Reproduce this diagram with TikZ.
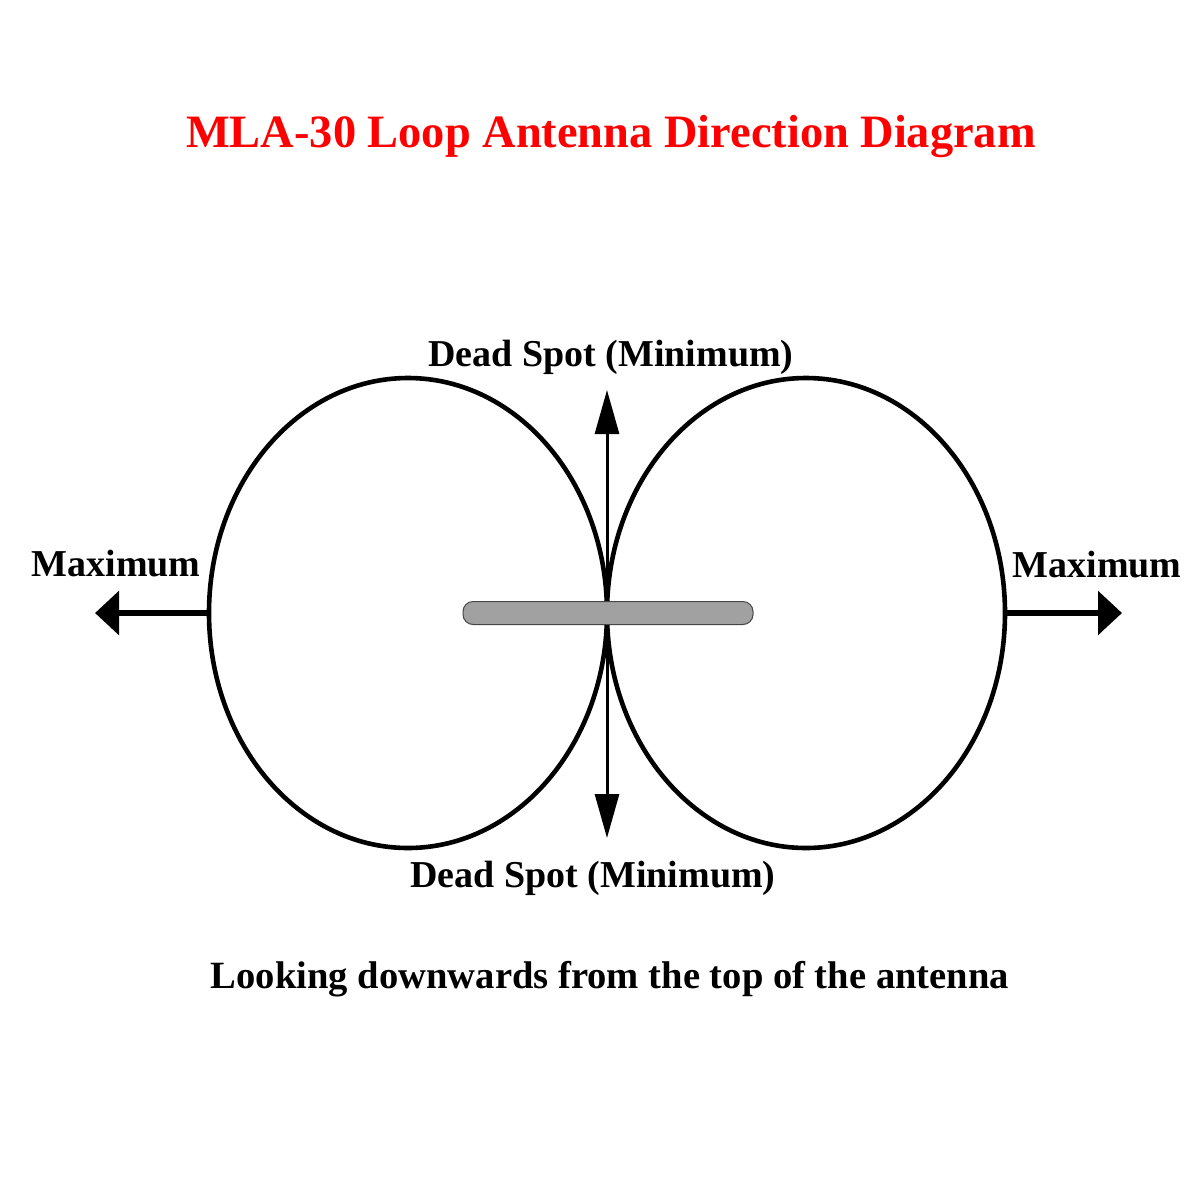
\documentclass[tikz,border=0pt]{standalone}
\usepackage{fontspec}
\setmainfont{Liberation Serif}
\usepackage{xcolor}
\usetikzlibrary{positioning, shapes.geometric, arrows.meta}

\begin{document}
\begin{tikzpicture}[x=0.5pt,y=-0.5pt]
	\tikzstyle{lobe}=[ellipse,draw=black,line width=2.3pt,minimum width=199pt,minimum height=235pt,inner sep=0pt]
	\tikzstyle{rod}=[rectangle,draw=gray!55!black,line width=0.5pt,fill=gray!74,rounded corners=5pt,minimum width=145pt,minimum height=11.5pt,inner sep=0pt]
	\tikzstyle{maxarrow}=[line width=3pt,-{Triangle[length=12pt,width=21.5pt]}]
	\tikzstyle{minarrow}=[line width=1.5pt,-{Triangle[length=22pt,width=12pt]}]
	\tikzstyle{lbl}=[anchor=base,inner sep=0pt,font=\fontsize{19pt}{23pt}\selectfont\bfseries]
	\fill[white] (0,0) rectangle (1200,1200);
	\useasboundingbox (0,0) rectangle (1200,1200);
	% title
	\node[anchor=base,inner sep=0pt,text=red,font=\fontsize{23.2pt}{28pt}\selectfont\bfseries](title) at (611,147) {MLA-30 Loop Antenna Direction Diagram};
	% the two lobes
	\node[lobe](loopL) at (408,613) {};
	\node[lobe](loopR) at (806,613) {};
	\coordinate (tipL) at (95,613);
	\coordinate (tipR) at (1122,613);
	\coordinate (tipU) at (607,390);
	\coordinate (tipD) at (607,838);
	\coordinate (mid) at (607,613);
	\draw[maxarrow](loopL.west) -- (tipL);
	\draw[maxarrow](loopR.east) -- (tipR);
	\draw[minarrow](mid) -- (tipU);
	\draw[minarrow](mid) -- (tipD);
	% antenna seen from above
	\node[rod](rod) at (608,613) {};
	% labels
	\node[lbl](lblL) at (116,576) {Maximum};
	\node[lbl](lblR) at (1097,577) {Maximum};
	\node[lbl](lblU) at (611,366) {Dead Spot (Minimum)};
	\node[lbl](lblD) at (593,887) {Dead Spot (Minimum)};
	\node[lbl,font=\fontsize{19.3pt}{23pt}\selectfont\bfseries](caption) at (610,988) {Looking downwards from the top of the antenna};
\end{tikzpicture}
\end{document}
